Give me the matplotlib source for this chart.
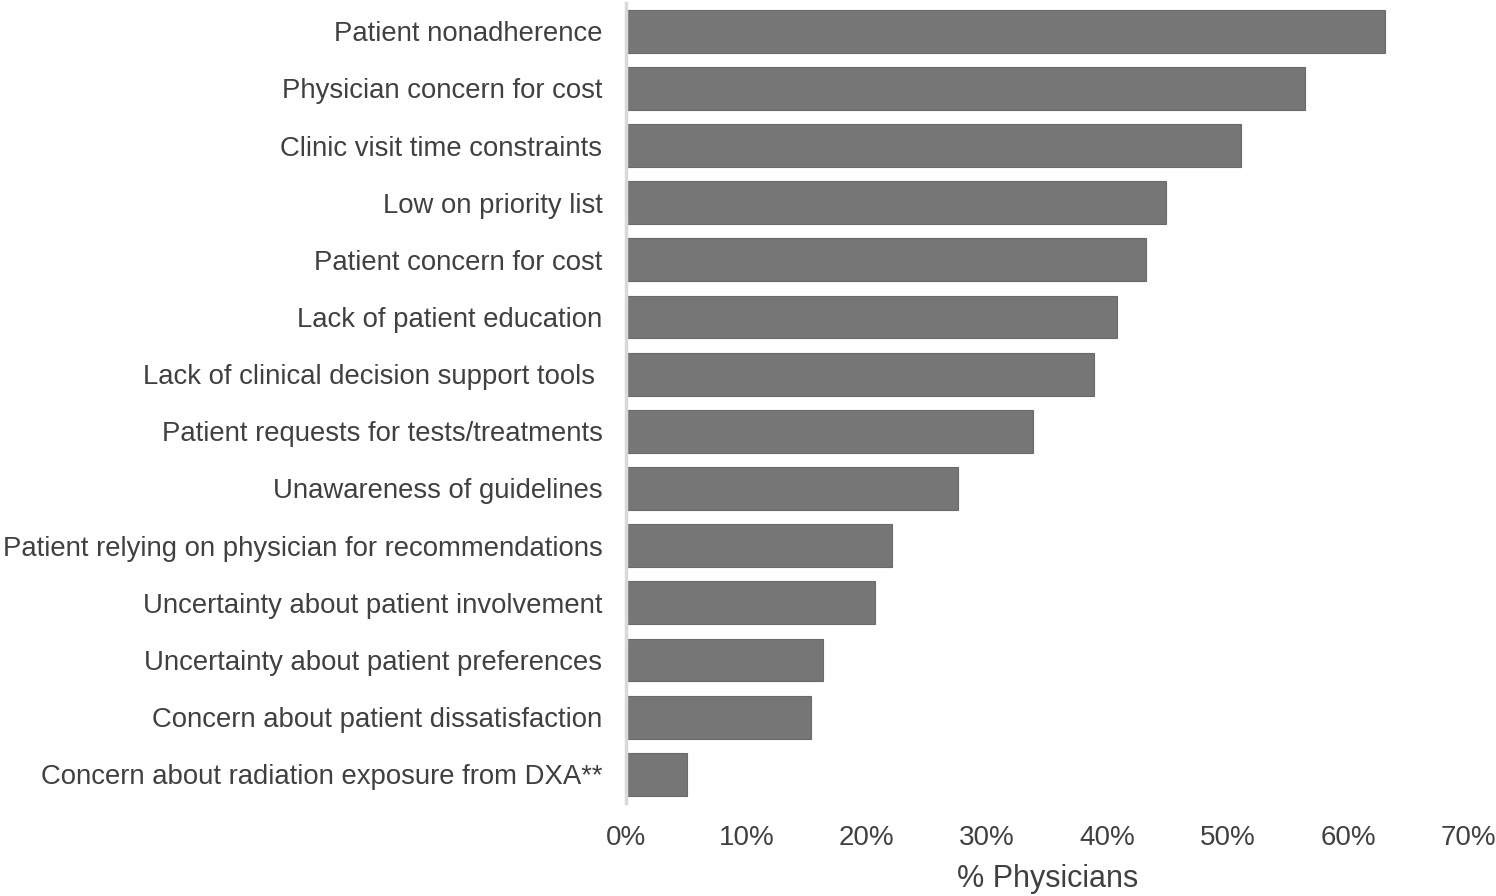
import numpy as np
import matplotlib
matplotlib.use("Agg")
import matplotlib.pyplot as plt

plt.rcParams['font.family'] = ['Liberation Sans', 'DejaVu Sans']

# barriers, top to bottom
categories = [
    "Patient nonadherence",
    "Physician concern for cost",
    "Clinic visit time constraints",
    "Low on priority list",
    "Patient concern for cost",
    "Lack of patient education",
    "Lack of clinical decision support tools ",
    "Patient requests for tests/treatments",
    "Unawareness of guidelines",
    "Patient relying on physician for recommendations",
    "Uncertainty about patient involvement",
    "Uncertainty about patient preferences",
    "Concern about patient dissatisfaction",
    "Concern about radiation exposure from DXA**",
]
pct = [63.1, 56.4, 51.1, 44.9, 43.2, 40.8, 38.9, 33.8, 27.6, 22.1, 20.7, 16.4, 15.4, 5.1]
xticks = [0, 10, 20, 30, 40, 50, 60, 70]

text_col = '#404040'
bar_col = '#767676'

fig = plt.figure(figsize=(14.96, 8.96), dpi=100)
ax = fig.add_axes([0.4185, 0.104, 0.563, 0.893])

y = np.arange(len(categories))
ax.barh(y, pct, height=0.75, color=bar_col, edgecolor='#6a6a6a', linewidth=0.8)

ax.set_ylim(len(categories) - 0.5, -0.5)
ax.set_xlim(0, 70)
ax.set_yticks(y)
ax.set_yticklabels(categories, fontsize=19.8, color=text_col)
ax.set_xticks(xticks)
ax.set_xticklabels([f"{t}%" for t in xticks], fontsize=20, color=text_col)
ax.tick_params(axis='both', length=0)
ax.tick_params(axis='y', pad=17)
ax.tick_params(axis='x', pad=16)

for s in ['top', 'right', 'bottom']:
    ax.spines[s].set_visible(False)
ax.spines['left'].set_color('#d9d9d9')
ax.spines['left'].set_linewidth(2.5)

ax.set_xlabel("% Physicians", fontsize=22, color=text_col, labelpad=9)

fig.savefig("out.png", dpi=100)
